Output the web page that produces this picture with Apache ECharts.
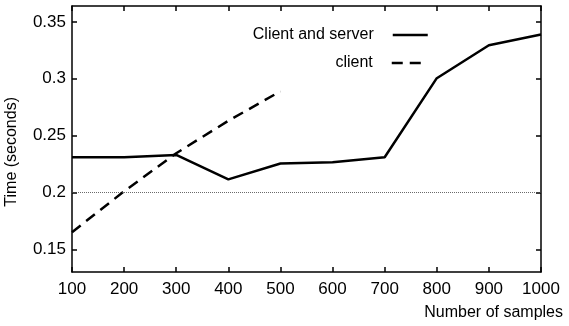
<!DOCTYPE html>
<html>
<head>
<meta charset="utf-8">
<script src="https://cdn.jsdelivr.net/npm/echarts@6/dist/echarts.min.js"></script>
<style>html,body{margin:0;padding:0;background:#fff;}#c{width:569px;height:326px;}</style>
</head>
<body>
<div id="c"></div>
<script>
var samples = [100, 200, 300, 400, 500, 600, 700, 800, 900, 1000];
var clientServer = [0.231, 0.231, 0.233, 0.2115, 0.2255, 0.2265, 0.231, 0.3005, 0.3295, 0.339];
var clientSamples = [100, 200, 300, 400, 500];
var client = [0.165, 0.201, 0.2345, 0.263, 0.289];
var yTicks = [0.15, 0.2, 0.25, 0.3, 0.35];
var refLine = 0.2;

var FONT = "'Liberation Sans', Arial, sans-serif";
var chart = echarts.init(document.getElementById('c'), null, {renderer: 'canvas'});

function pairs(xs, ys) { return xs.map(function (x, i) { return [x, ys[i]]; }); }

var frameLine = {show: true, lineStyle: {color: '#000', width: 1.5}};
var tick = {show: true, inside: true, length: 5, lineStyle: {color: '#000', width: 1.5}};
var legendText = {color: '#000', fontSize: 16, fontFamily: FONT, padding: [0, 14, 0, 0]};
var DASH = [11, 7];

chart.setOption({
  animation: false,
  backgroundColor: '#fff',
  grid: {left: 72, right: 28, top: 6, bottom: 54, containLabel: false},
  xAxis: [{
    type: 'value', min: 100, max: 1000, interval: 100, position: 'bottom',
    axisLine: frameLine, axisTick: tick,
    axisLabel: {color: '#000', fontSize: 17, fontFamily: FONT, margin: 9,
      formatter: function (v) { return String(v); }},
    splitLine: {show: false}
  }, {
    type: 'value', min: 100, max: 1000, interval: 100, position: 'top',
    axisLine: frameLine, axisTick: tick, axisLabel: {show: false}, splitLine: {show: false}
  }],
  yAxis: [{
    type: 'value', min: 0.13, max: 0.364, position: 'left',
    axisLine: frameLine,
    axisTick: Object.assign({customValues: yTicks}, tick),
    axisLabel: {color: '#000', fontSize: 17, fontFamily: FONT, margin: 6, customValues: yTicks},
    splitLine: {show: false}
  }, {
    type: 'value', min: 0.13, max: 0.364, position: 'right',
    axisLine: frameLine,
    axisTick: Object.assign({customValues: yTicks}, tick),
    axisLabel: {show: false}, splitLine: {show: false}
  }],
  legend: [{
    data: ['Client and server'], orient: 'vertical', align: 'right',
    right: 135, top: 22, itemWidth: 35, itemHeight: 14,
    itemStyle: {opacity: 0},
    lineStyle: {width: 2.5},
    textStyle: legendText
  }, {
    data: ['client'], orient: 'vertical', align: 'right',
    right: 135, top: 50, itemWidth: 36, itemHeight: 14,
    itemStyle: {opacity: 0},
    lineStyle: {width: 2.5},
    textStyle: legendText
  }],
  graphic: [{
    type: 'text', right: 6, top: 305,
    style: {text: 'Number of samples', fill: '#000', font: '16px ' + FONT}
  }, {
    type: 'text', left: 4, top: 97, rotation: Math.PI / 2,
    style: {text: 'Time (seconds)', fill: '#000', font: '16px ' + FONT}
  }],
  series: [{
    name: 'Client and server', type: 'line', data: pairs(samples, clientServer),
    symbol: 'none', lineStyle: {color: '#000', width: 2.5}, itemStyle: {color: '#000'},
    markLine: {
      silent: true, symbol: 'none', label: {show: false},
      lineStyle: {color: '#444', width: 0.8, type: [1, 1]},
      data: [{yAxis: refLine}]
    }
  }, {
    name: 'client', type: 'line', data: pairs(clientSamples, client),
    symbol: 'none', lineStyle: {color: '#000', width: 2.5, type: DASH}, itemStyle: {color: '#000'}
  }]
});
</script>
</body>
</html>
